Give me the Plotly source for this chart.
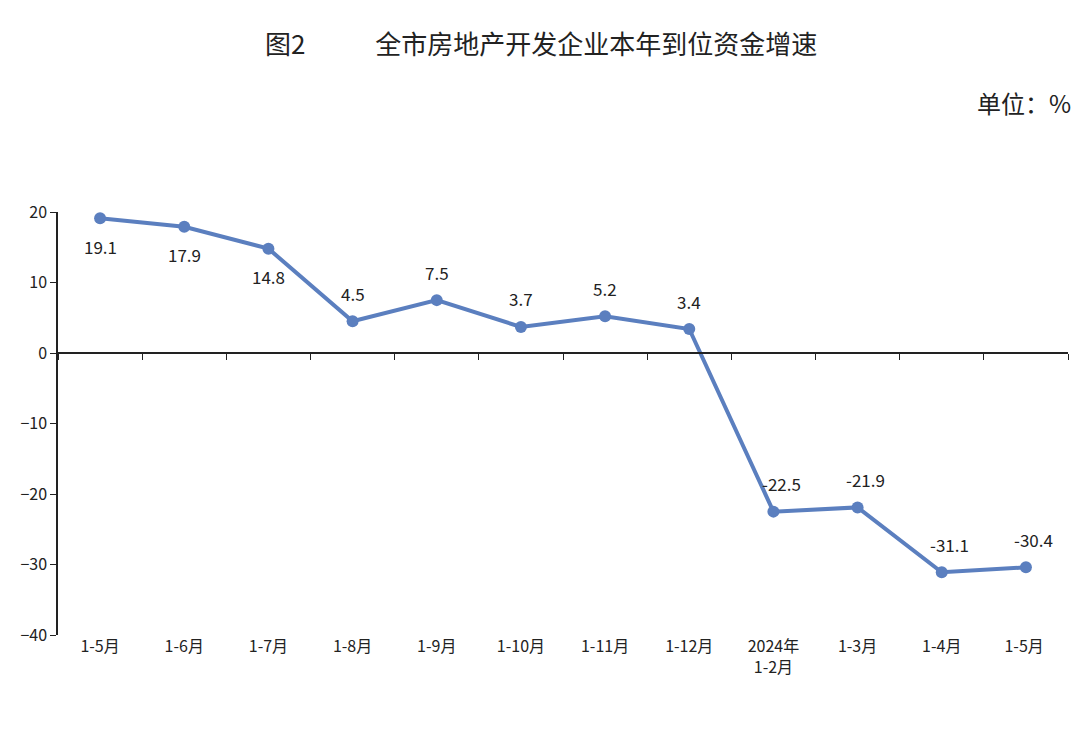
import plotly.graph_objects as go

categories = ["1-5月", "1-6月", "1-7月", "1-8月", "1-9月", "1-10月", "1-11月", "1-12月", "2024年<br>1-2月", "1-3月", "1-4月", "1-5月 "]
values = [19.1, 17.9, 14.8, 4.5, 7.5, 3.7, 5.2, 3.4, -22.5, -21.9, -31.1, -30.4]
label_below = [True] * 3 + [False] * 9
y_ticks = [20, 10, 0, -10, -20, -30, -40]

color = "#5b7fbf"
font = "Noto Sans CJK SC"

fig = go.Figure()
fig.add_trace(go.Scatter(
    x=categories, y=values, mode="lines+markers",
    line=dict(color=color, width=4), marker=dict(size=12, color=color),
    cliponaxis=False, showlegend=False))
fig.add_trace(go.Scatter(x=[0], y=[0], xaxis="x2", mode="markers",
                         marker=dict(opacity=0), showlegend=False, hoverinfo="skip"))

L, R, T, B = 48, 20, 204, 107
W, H = 1080 - L - R, 734 - T - B
anns = [dict(x=c, y=v, text=f"{v:.1f}", showarrow=False, yshift=(-28 if b else 28),
             xshift=(8 if i >= 8 else 0), font=dict(size=17, color="#222"))
        for i, (c, v, b) in enumerate(zip(categories, values, label_below))]
anns += [
    dict(text="图2            全市房地产开发企业本年到位资金增速", x=(532 - L) / W,
         y=(734 - B - 14) / H, xref="paper", yref="paper", showarrow=False, font=dict(size=26)),
    dict(text="单位：%", x=(1065 - L) / W, y=(734 - B - 75) / H, xref="paper", yref="paper",
         xanchor="right", showarrow=False, font=dict(size=24)),
]

fig.update_layout(
    width=1080, height=734, plot_bgcolor="white", paper_bgcolor="white",
    margin=dict(l=L, r=R, t=T, b=B),
    font=dict(family=font, size=16, color="#222"),
    xaxis=dict(type="category", showline=False, ticks="", showgrid=False,
               zeroline=False, tickfont=dict(size=16), range=[-0.5, 11.5]),
    xaxis2=dict(overlaying="x", anchor="free", position=40/60, side="bottom",
                range=[-0.5, 11.5], tickvals=[i + 0.5 for i in range(-1, 12)],
                ticks="outside", ticklen=6, tickcolor="#222", showline=True,
                linecolor="#222", linewidth=1.5, showticklabels=False,
                showgrid=False, zeroline=False),
    yaxis=dict(range=[-40, 20], tickvals=y_ticks, showgrid=False, zeroline=False,
               showline=True, linecolor="#222", linewidth=1.5, ticks="outside",
               ticklen=6, tickcolor="#222", tickfont=dict(size=16)),
    annotations=anns,
)
fig.write_html("out.html")
